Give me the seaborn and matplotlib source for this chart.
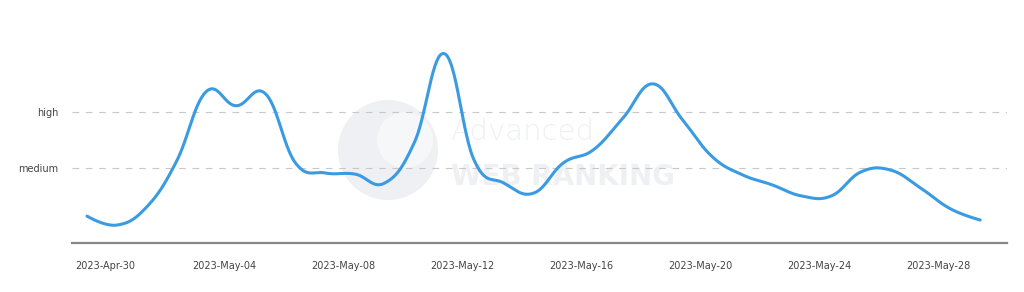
import numpy as np
import pandas as pd
import matplotlib
matplotlib.use("Agg")
import matplotlib.pyplot as plt
import seaborn as sns
from matplotlib.patches import Circle

# ---- data ----
dates = pd.date_range("2023-04-30", "2023-05-30", freq="D")
values = [1.14, 0.98, 1.30, 2.11, 3.36, 3.11, 3.32, 2.09, 1.91, 1.89, 1.73,
          2.46, 4.04, 2.14, 1.73, 1.55, 2.09, 2.32, 2.89, 3.50, 2.86, 2.20,
          1.88, 1.70, 1.50, 1.50, 1.93, 1.96, 1.64, 1.27, 1.07]
ytick_vals = [2, 3]
ytick_labels = ["medium", "high"]
xtick_labels = ["2023-Apr-30", "2023-May-04", "2023-May-08", "2023-May-12",
                "2023-May-16", "2023-May-20", "2023-May-24", "2023-May-28"]


# spline-style smoothing (bezier with 0.4 handles) through the data points
def smooth(x, y, n=30, h=0.4):
    x = np.asarray(x, float); y = np.asarray(y, float)
    m = np.zeros_like(y)
    m[1:-1] = (y[2:] - y[:-2]) / (x[2:] - x[:-2])
    t = np.linspace(0, 1, n, endpoint=False)[:, None]
    xs, ys = [], []
    for i in range(len(x) - 1):
        dx = x[i + 1] - x[i]
        hl = 0 if i == 0 else h
        hr = 0 if i + 1 == len(x) - 1 else h
        P = np.array([[x[i], y[i]],
                      [x[i] + hl * dx, y[i] + m[i] * hl * dx],
                      [x[i + 1] - hr * dx, y[i + 1] - m[i + 1] * hr * dx],
                      [x[i + 1], y[i + 1]]])
        B = ((1 - t) ** 3) * P[0] + 3 * ((1 - t) ** 2) * t * P[1] + \
            3 * (1 - t) * t ** 2 * P[2] + t ** 3 * P[3]
        xs.append(B[:, 0]); ys.append(B[:, 1])
    xs.append([x[-1]]); ys.append([y[-1]])
    return np.concatenate(xs), np.concatenate(ys)


day_idx = np.arange(len(values))
sx, sy = smooth(day_idx, values)
df = pd.DataFrame({"day": sx, "value": sy})

sns.set_theme(style="white")
plt.rcParams["font.family"] = ["DejaVu Sans"]

fig = plt.figure(figsize=(10.24, 2.92), dpi=100)
ax = fig.add_axes([72 / 1024, (292 - 243) / 292, (1007 - 72) / 1024, (243 - 20) / 292])

# faint watermark (drawn inside the axes, below everything)
wm = "#eef0f3"
circ = Circle((388, 292 - 150), 50, transform=None, facecolor=wm, edgecolor="none",
              zorder=0.5)
ax.add_patch(circ)
circ2 = Circle((405, 292 - 140), 28, transform=None, facecolor="#f6f7f9",
               edgecolor="none", zorder=0.6)
ax.add_patch(circ2)
ax.text(450 / 1024, 1 - 132 / 292, "Advanced", fontsize=21, color=wm, ha="left",
        va="center", fontweight="light", zorder=0.7, transform=fig.transFigure)
ax.text(451 / 1024, 1 - 177 / 292, "WEB RANKING", fontsize=20, color=wm, ha="left",
        va="center", fontweight="bold", zorder=0.7, transform=fig.transFigure)

ax.patch.set_alpha(0)
sns.lineplot(data=df, x="day", y="value", ax=ax, color="#3a9be2", linewidth=2.2,
             zorder=3, sort=False)

ax.set_xlim(-0.504, 30.9)
ax.set_ylim(0.66, 4.64)

for v in ytick_vals:
    ax.axhline(v, color="#c8c8c8", linestyle=(0, (6, 6)), linewidth=0.8, zorder=1)

ax.set_yticks(ytick_vals)
ax.set_yticklabels(ytick_labels, fontsize=7, color="#444444")
ax.set_xticks(np.arange(len(xtick_labels)) * 4 + 0.6)
ax.set_xticklabels(xtick_labels, fontsize=7, color="#444444")
ax.tick_params(axis="both", length=0)
ax.tick_params(axis="x", pad=13)
ax.tick_params(axis="y", pad=10)
ax.set_xlabel("")
ax.set_ylabel("")

for s in ["top", "right", "left"]:
    ax.spines[s].set_visible(False)
ax.spines["bottom"].set_color("#888888")
ax.spines["bottom"].set_linewidth(1.6)

fig.savefig("out.png", dpi=100)
